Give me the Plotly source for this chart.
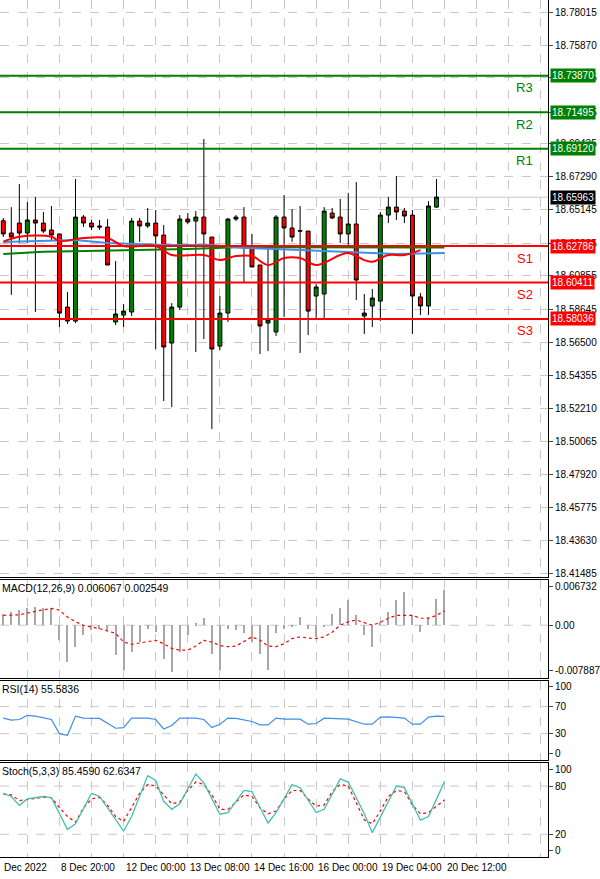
import plotly.graph_objects as go
from plotly.subplots import make_subplots

# OHLC per bar (index 0..54)
opens = [18.6443, 18.6363, 18.6428, 18.6363, 18.6448, 18.6428, 18.6383, 18.6357, 18.5881, 18.5790,
         18.6467, 18.6428, 18.6409, 18.6402, 18.5784, 18.5829, 18.5849, 18.6441, 18.6409, 18.6428,
         18.6350, 18.5647, 18.5881, 18.6454, 18.6441, 18.6467, 18.6337, 18.5627, 18.5842, 18.6454,
         18.6467, 18.6272, 18.6155, 18.5777, 18.5719, 18.6467, 18.6396, 18.6379, 18.6376, 18.5953,
         18.5966, 18.6493, 18.6467, 18.6357, 18.6422, 18.5823, 18.5888, 18.5920, 18.6480, 18.6532,
         18.6506, 18.6480, 18.5947, 18.5888, 18.6532]
highs = [18.6461, 18.6532, 18.6682, 18.6565, 18.6598, 18.6500, 18.6539, 18.6357, 18.5979, 18.6715,
         18.6480, 18.6448, 18.6448, 18.6454, 18.6181, 18.5901, 18.6461, 18.6461, 18.6526, 18.6513,
         18.6415, 18.5907, 18.6480, 18.6493, 18.6506, 18.6975, 18.6337, 18.5953, 18.6461, 18.6480,
         18.6532, 18.6357, 18.6155, 18.6266, 18.6480, 18.6611, 18.6519, 18.6539, 18.6376, 18.6031,
         18.6532, 18.6526, 18.6585, 18.6624, 18.6695, 18.5966, 18.5999, 18.6500, 18.6598, 18.6734,
         18.6526, 18.6513, 18.5973, 18.6571, 18.6715]
lows = [18.6337, 18.5960, 18.6298, 18.6298, 18.5849, 18.6363, 18.6318, 18.5751, 18.5771, 18.5777,
        18.6402, 18.6383, 18.6383, 18.6155, 18.5764, 18.5751, 18.5823, 18.6305, 18.6396, 18.5608,
        18.5269, 18.5230, 18.5862, 18.6422, 18.5588, 18.5673, 18.5087, 18.5601, 18.5784, 18.6441,
        18.6044, 18.6142, 18.5575, 18.5595, 18.5693, 18.5816, 18.6305, 18.5582, 18.5699, 18.5810,
        18.5803, 18.6454, 18.6298, 18.6266, 18.5927, 18.5706, 18.5751, 18.5790, 18.6428, 18.6448,
        18.6428, 18.5706, 18.5829, 18.5829, 18.6526]
closes = [18.6357, 18.6337, 18.6363, 18.6448, 18.6428, 18.6376, 18.6350, 18.5842, 18.5790, 18.6467,
          18.6428, 18.6402, 18.6402, 18.6155, 18.5836, 18.5855, 18.6441, 18.6409, 18.6428, 18.6344,
          18.5621, 18.5881, 18.6454, 18.6435, 18.6467, 18.6357, 18.5608, 18.5842, 18.6454, 18.6467,
          18.6272, 18.6142, 18.5758, 18.5797, 18.6467, 18.6396, 18.6337, 18.6376, 18.5855, 18.6012,
          18.6506, 18.6461, 18.6357, 18.6422, 18.6057, 18.5842, 18.5940, 18.6480, 18.6532, 18.6500,
          18.6474, 18.5953, 18.5888, 18.6539, 18.6597]

# moving averages (bar index, value)
ma_blue_x = [0, 9, 13, 20, 26, 30, 37, 49, 55]
ma_blue = [18.6305, 18.6318, 18.6298, 18.6285, 18.6285, 18.6266, 18.6253, 18.6227, 18.6233]
ma_green_x = [0, 2, 5, 12, 23, 29, 55]
ma_green = [18.6227, 18.6233, 18.6241, 18.6248, 18.6259, 18.6270, 18.6269]
ma_red_x = [0, 2, 6, 7, 10, 13, 15, 19, 21, 25, 27, 29, 31, 33, 35, 37, 39, 42, 43, 45, 46, 48, 50, 52]
ma_red = [18.6307, 18.6339, 18.6339, 18.6311, 18.6331, 18.6331, 18.6279, 18.6279, 18.6220, 18.6220,
          18.6187, 18.6213, 18.6213, 18.6155, 18.6200, 18.6200, 18.6155, 18.6220, 18.6233, 18.6187,
          18.6176, 18.6220, 18.6220, 18.6252]

level_names = ["R3", "R2", "R1", "S1", "S2", "S3"]
level_values = [18.73870, 18.71495, 18.69120, 18.62786, 18.60411, 18.58036]
level_colors = ["#008000", "#008000", "#008000", "#ff0000", "#ff0000", "#ff0000"]
last_price = 18.65963

price_ticks = [18.41485, 18.43630, 18.45775, 18.47920, 18.50065, 18.52210, 18.54355, 18.56500,
               18.58645, 18.60855, 18.62935, 18.65145, 18.67290, 18.69435, 18.71495, 18.73725,
               18.75870, 18.78015]

# MACD histogram (x1e-3), bars 0..55
macd_hist = [2.0, 2.3, 2.6, 2.9, 3.2, 2.9, 2.9, -2.6, -6.4, -3.7, -1.7, -0.9, -0.6, -0.9, -5.2, -7.8,
             -4.6, -2.9, -0.6, -1.2, -5.8, -8.1, -4.6, -1.7, 0.3, 1.2, -4.9, -7.8, -0.6, -0.9, -1.4,
             -2.9, -4.9, -7.8, -1.4, -0.6, -0.3, 1.4, -0.6, -2.0, -0.3, 2.0, 3.0, 4.3, 1.7, -1.7, -3.7,
             0.6, 2.3, 4.3, 5.8, 1.7, -1.2, 1.4, 4.5, 6.1]
sig_x = [0, 2, 4, 6, 7, 8, 9, 10, 11, 12, 14, 15, 16, 18, 19, 20, 21, 22, 23, 24, 25, 26, 27, 28, 29,
         30, 31, 32, 33, 34, 35, 36, 37, 38, 39, 40, 41, 42, 43, 44, 45, 46, 47, 48, 49, 50, 51, 52,
         53, 54, 55]
macd_signal = [1.7, 1.8, 2.4, 2.9, 2.6, 1.4, 0.6, 0.0, -0.3, -0.6, -1.4, -2.9, -3.3, -2.8, -2.6, -3.2,
               -4.0, -4.3, -4.3, -3.6, -2.6, -2.9, -3.5, -3.7, -3.6, -2.8, -2.0, -2.6, -3.6, -3.7,
               -3.2, -2.3, -2.0, -2.2, -2.3, -2.0, -1.2, 0.0, 0.6, 0.9, 0.4, 0.0, 0.5, 1.2, 1.7, 1.7,
               1.7, 1.2, 1.2, 1.7, 2.5]

rsi_x = [0, 1, 2, 3, 4, 6, 7, 8, 9, 10, 12, 14, 15, 16, 18, 19, 20, 21, 22, 24, 25, 26, 27, 28, 29,
         31, 32, 33, 34, 35, 36, 37, 38, 39, 40, 42, 43, 45, 46, 47, 48, 50, 51, 52, 53, 54, 55]
rsi = [53, 50, 51, 57, 56, 51, 30, 27.5, 56, 53, 52.5, 38, 39, 53, 53, 51, 37, 42, 53, 53, 51, 39, 44,
       53, 52.5, 48, 43, 43, 53, 51.5, 51.5, 51.5, 44, 45, 53, 51.5, 51.5, 44, 44, 54.5, 55, 53, 44,
       44, 54.5, 56, 55.6]

stoch_x = [0, 1, 2, 3, 5, 6, 8, 9, 11, 12, 15, 16, 18, 19, 20, 21, 22, 24, 25, 27, 28, 30, 31, 33,
           34, 36, 37, 39, 40, 42, 43, 45, 46, 47, 49, 50, 52, 53, 55]
stoch_k = [71, 67, 56, 64, 67, 65.5, 26, 33, 71, 67, 24, 42, 93, 87, 61, 51, 58, 95, 84, 45, 47, 74.5,
           73, 34, 47, 82, 78, 47, 51, 89, 85, 45.5, 22, 42, 80, 78, 37.5, 42, 85.5]
stoch_d = [70, 69, 62, 63, 64.5, 66, 65.5, 53, 42, 35, 53, 64, 66, 56, 42, 36, 53, 71, 82, 80, 69, 58,
           60, 74.5, 85, 82, 69, 51, 51, 60, 69, 67, 53, 45.5, 49, 64, 74.5, 74.5, 64, 55, 56.5, 73,
           82, 80, 60, 38, 33, 49, 67, 74.5, 73, 56.5, 45.5, 47, 55, 62.6]

x_labels = ["Dec 2022", "8 Dec 20:00", "12 Dec 00:00", "13 Dec 08:00", "14 Dec 16:00",
            "16 Dec 00:00", "19 Dec 04:00", "20 Dec 12:00"]
x_label_pos = [-0.2, 7, 15, 23, 31, 39, 47, 55]

H = 879
PB = 857  # plot area height in px
def dom(top, bottom):
    return [1 - bottom / PB, 1 - top / PB]

fig = make_subplots(rows=4, cols=1, shared_xaxes=True)
bars = list(range(len(opens)))

fig.add_trace(go.Candlestick(x=bars, open=opens, high=highs, low=lows, close=closes,
                             increasing=dict(fillcolor="#008000", line=dict(color="#000000", width=1)),
                             decreasing=dict(fillcolor="#ff0000", line=dict(color="#000000", width=1)),
                             whiskerwidth=0, showlegend=False, hoverinfo="skip"), row=1, col=1)
fig.add_trace(go.Scatter(x=ma_green_x, y=ma_green, mode="lines", line=dict(color="#008000", width=2)), row=1, col=1)
fig.add_trace(go.Scatter(x=ma_blue_x, y=ma_blue, mode="lines", line=dict(color="#3d8fe8", width=2)), row=1, col=1)
fig.add_trace(go.Scatter(x=ma_red_x, y=ma_red, mode="lines", line=dict(color="#ff0000", width=2, shape="spline")), row=1, col=1)

fig.add_trace(go.Bar(x=list(range(len(macd_hist))), y=[v / 1000 for v in macd_hist], width=0.15,
                     marker=dict(color="#a8a8a8", line=dict(width=0))), row=2, col=1)
fig.add_trace(go.Scatter(x=sig_x, y=[v / 1000 for v in macd_signal], mode="lines",
                         line=dict(color="#ff0000", width=1.2, dash="dot")), row=2, col=1)

fig.add_trace(go.Scatter(x=rsi_x, y=rsi, mode="lines", line=dict(color="#3d8fe8", width=1.2)), row=3, col=1)

fig.add_trace(go.Scatter(x=list(range(len(stoch_d))), y=stoch_d, mode="lines",
                         line=dict(color="#ff0000", width=1.2, dash="dot")), row=4, col=1)
fig.add_trace(go.Scatter(x=stoch_x, y=stoch_k, mode="lines", line=dict(color="#40c0b0", width=1.3)), row=4, col=1)

xr = [-0.41, 67.9]
for i in range(1, 5):
    fig.update_xaxes(row=i, col=1, range=xr, tick0=3, dtick=4, showticklabels=False,
                     showgrid=True, gridcolor="#c8c8c8", griddash="dash", gridwidth=1,
                     zeroline=False, showline=True, linecolor="#000", mirror=True, ticks="",
                     rangeslider=dict(visible=False))

axis_font = dict(family="Liberation Sans", size=10, color="#000")
fig.update_yaxes(row=1, col=1, domain=dom(0, 577), range=[18.4124, 18.7880], side="right",
                 tickvals=price_ticks, ticktext=[f"{v:.5f}" for v in price_ticks],
                 showgrid=True, gridcolor="#c8c8c8", griddash="dash", zeroline=False,
                 showline=True, linecolor="#000", mirror=True, ticks="outside", ticklen=4, tickfont=axis_font)
fig.update_yaxes(row=2, col=1, domain=dom(580, 678), range=[-0.0091, 0.0078], side="right",
                 tickvals=[-0.007887, 0.0, 0.006732], ticktext=["-0.007887", "0.00", "0.006732"],
                 showgrid=False, zeroline=False, showline=True, linecolor="#000", mirror=True,
                 ticks="outside", ticklen=4, tickfont=axis_font)
fig.update_yaxes(row=3, col=1, domain=dom(681, 760), range=[-9, 108], side="right",
                 tickvals=[0, 30, 70, 100], showgrid=False, zeroline=False, showline=True,
                 linecolor="#000", mirror=True, ticks="outside", ticklen=4, tickfont=axis_font)
fig.update_yaxes(row=4, col=1, domain=dom(763, 857), range=[-8.3, 108.7], side="right",
                 tickvals=[0, 20, 80, 100], showgrid=False, zeroline=False, showline=True,
                 linecolor="#000", mirror=True, ticks="outside", ticklen=4, tickfont=axis_font)

shapes = []
def hline(yv, yref, color, width=1, dash="dash"):
    shapes.append(dict(type="line", xref="paper", x0=0, x1=1, yref=yref, y0=yv, y1=yv,
                       line=dict(color=color, width=width, dash=dash), layer="below"))
hline(0, "y2", "#c8c8c8")
for v in (30, 70):
    hline(v, "y3", "#c8c8c8")
for v in (20, 80):
    hline(v, "y4", "#c8c8c8")
hline(last_price, "y", "#c8c8c8", 1, "solid")
for v, c in zip(level_values, level_colors):
    shapes.append(dict(type="line", xref="paper", x0=0, x1=1, yref="y", y0=v, y1=v,
                       line=dict(color=c, width=2)))

ann = []
for n, v, c in zip(level_names, level_values, level_colors):
    ann.append(dict(x=1.003, xref="paper", y=v, yref="y", text=f"{v:.5f}", showarrow=False,
                    xanchor="left", font=dict(family="Liberation Sans", size=10, color="#fff"),
                    bgcolor=c, borderpad=1))
    ann.append(dict(x=65, xref="x", y=v, yref="y", yshift=-12, text=n, showarrow=False,
                    font=dict(family="Liberation Sans", size=13, color=c)))
ann.append(dict(x=1.003, xref="paper", y=last_price, yref="y", text=f"{last_price:.5f}",
                showarrow=False, xanchor="left", font=dict(family="Liberation Sans", size=10, color="#fff"),
                bgcolor="#000", borderpad=1))
titles = [("MACD(12,26,9) 0.006067 0.002549", "y2 domain"), ("RSI(14) 55.5836", "y3 domain"),
          ("Stoch(5,3,3) 85.4590 62.6347", "y4 domain")]
for t, yr in titles:
    ann.append(dict(x=0, xref="paper", y=1, yref=yr, text=t, showarrow=False, xanchor="left",
                    yanchor="top", font=dict(family="Liberation Sans", size=10.5, color="#000")))
for t, p in zip(x_labels, x_label_pos):
    ann.append(dict(x=p, xref="x4", y=0, yref="paper", yanchor="top", xanchor="left", text=t,
                    showarrow=False, font=dict(family="Liberation Sans", size=10, color="#000"),
                    yshift=-3))

fig.update_layout(width=600, height=H, margin=dict(l=0, r=52, t=0, b=22),
                  paper_bgcolor="#fff", plot_bgcolor="#fff", showlegend=False,
                  shapes=shapes, annotations=ann, bargap=0)
fig.write_html("out.html", config={"displayModeBar": False},
               post_script="document.body.style.margin='0';")
